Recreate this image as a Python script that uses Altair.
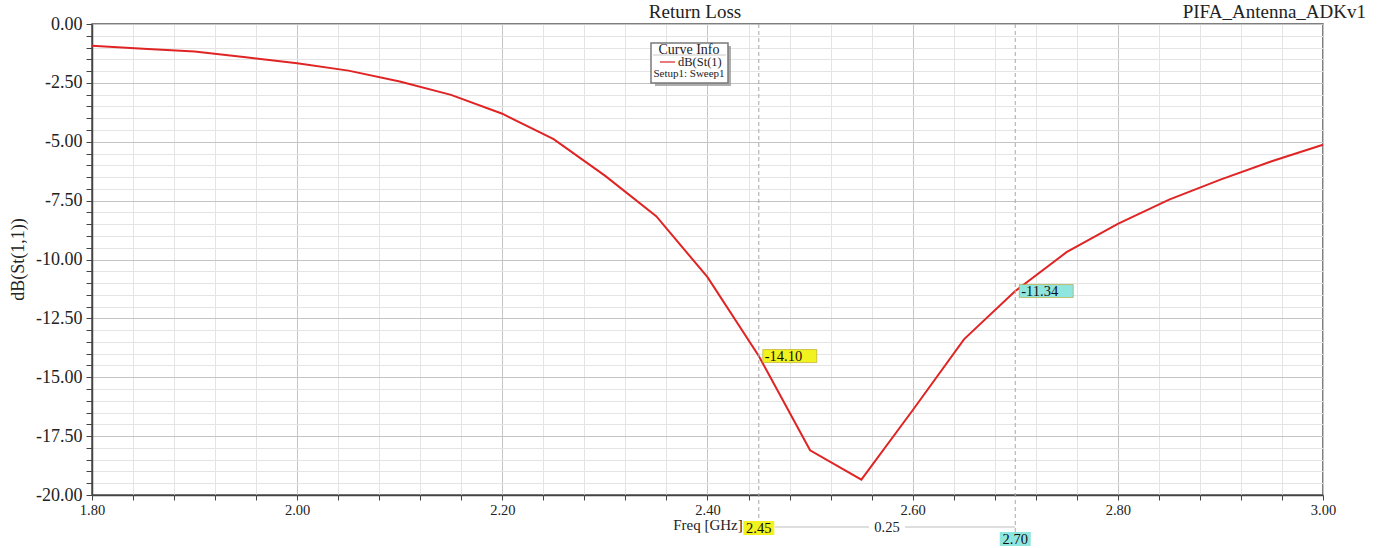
import altair as alt
import pandas as pd

# ---- data ----
freq = [1.80, 1.85, 1.90, 1.95, 2.00, 2.05, 2.10, 2.15, 2.20, 2.25, 2.30, 2.35,
        2.40, 2.45, 2.50, 2.55, 2.60, 2.65, 2.70, 2.75, 2.80, 2.85, 2.90, 2.95, 3.00]
db = [-0.92, -1.05, -1.17, -1.41, -1.67, -1.98, -2.44, -3.01, -3.81, -4.89, -6.44, -8.16,
      -10.75, -14.10, -18.10, -19.35, -16.40, -13.39, -11.34, -9.69, -8.49, -7.46, -6.61, -5.83, -5.13]

marker_freq = [2.45, 2.70]
marker_val = [-14.10, -11.34]
marker_label = ["-14.10", "-11.34"]
marker_color = ["#f2f21e", "#8fe6de"]
marker_flabel = ["2.45", "2.70"]
delta_label = "0.25"

x_ticks = [round(1.80 + 0.04 * i, 2) for i in range(31)]
y_ticks = [round(-20 + 0.5 * i, 2) for i in range(41)]

FONT = "Liberation Serif"

df = pd.DataFrame({"freq": freq, "db": db})
mk = pd.DataFrame({"freq": marker_freq, "val": marker_val, "lab": marker_label,
                   "col": marker_color, "flab": marker_flabel})

xscale = alt.Scale(domain=[1.8, 3.0], nice=False, zero=False)
yscale = alt.Scale(domain=[-20, 0], nice=False, zero=False)

x_major = "abs(round(datum.value*100) % 20) == 0"
y_major = "abs(round(datum.value*100) % 250) == 0"

xaxis = alt.Axis(
    values=x_ticks, title="Freq [GHz]",
    labelExpr=f"{x_major} ? format(datum.value, '.2f') : ''",
    labelFont=FONT, labelFontSize=14.5, labelColor="#222", labelPadding=3,
    labelOverlap=False, labelFlush=False,
    tickSize=5, tickColor="#444", domainColor="#444", domainWidth=1.5,
    gridColor={"condition": {"test": x_major, "value": "#c4c4c4"}, "value": "#e4e4e4"},
    titleFont=FONT, titleFontSize=15, titleFontWeight="normal", titleColor="#222",
    titleY=29, titleBaseline="middle",
)
yaxis = alt.Axis(
    values=y_ticks, title="dB(St(1,1))",
    labelExpr=f"{y_major} ? replace(format(datum.value, '.2f'), '\u2212', '-') : ''",
    labelFont=FONT, labelFontSize=18, labelColor="#222", labelPadding=4,
    labelOverlap=False, labelFlush=False,
    tickSize=6, tickColor="#444", domainColor="#444", domainWidth=1.5,
    gridColor={"condition": {"test": y_major, "value": "#c4c4c4"}, "value": "#e4e4e4"},
    titleFont=FONT, titleFontSize=18, titleFontWeight="normal", titleColor="#222",
    titleX=-74, titleY=235, titleAngle=-90, titleBaseline="middle", titleAlign="center",
)

X = lambda f: alt.X(f, scale=xscale, axis=xaxis)
Y = lambda f: alt.Y(f, scale=yscale, axis=yaxis)

curve = alt.Chart(df).mark_line(color="#e02424", strokeWidth=2).encode(
    x=X("freq:Q"), y=Y("db:Q"),
)

mbase = alt.Chart(mk)
vlines = mbase.mark_rule(color="#a8a8a8", strokeDash=[4, 3], strokeWidth=1).encode(
    x=X("freq:Q"), y=alt.value(0), y2=alt.value(508),
)

# value boxes on the curve
vbox = mbase.mark_rect(width=54, height=13, xOffset=31, stroke="#b0a020", strokeWidth=0.6).encode(
    x=X("freq:Q"), y=Y("val:Q"), fill=alt.Fill("col:N", scale=None),
)
vtext = mbase.mark_text(font=FONT, fontSize=14.5, color="#111", align="left", dx=6, baseline="middle", dy=1).encode(
    x=X("freq:Q"), y=Y("val:Q"), text="lab:N",
)

# frequency marker boxes below the axis
flayers = []
for i, py in enumerate([504, 515]):
    one = alt.Chart(mk.iloc[[i]])
    flayers.append(one.mark_rect(width=31, height=14).encode(
        x=X("freq:Q"), y=alt.value(py), fill=alt.Fill("col:N", scale=None)))
    flayers.append(one.mark_text(font=FONT, fontSize=14.5, color="#111", baseline="middle", dy=1).encode(
        x=X("freq:Q"), y=alt.value(py), text="flab:N"))

dl = pd.DataFrame({"a": [marker_freq[0]], "b": [marker_freq[1]],
                   "m": [(marker_freq[0] + marker_freq[1]) / 2], "t": [delta_label]})
dline = alt.Chart(dl).mark_rule(color="#bdbdbd", strokeWidth=1.2, xOffset=16).encode(
    x=X("a:Q"), x2="b:Q", y=alt.value(503),
)
dbg = alt.Chart(dl).mark_rect(width=36, height=12, fill="white").encode(
    x=X("m:Q"), y=alt.value(503),
)
dtext = alt.Chart(dl).mark_text(font=FONT, fontSize=14.5, color="#222", baseline="middle", dy=1).encode(
    x=X("m:Q"), y=alt.value(503), text="t:N",
)

# titles
ann = pd.DataFrame({"t": ["Return Loss"]})
t1 = alt.Chart(ann).mark_text(font=FONT, fontSize=19, color="#222", baseline="bottom").encode(
    x=alt.value(603), y=alt.value(-2), text="t:N")
ann2 = pd.DataFrame({"t": ["PIFA_Antenna_ADKv1"]})
t2 = alt.Chart(ann2).mark_text(font=FONT, fontSize=19, color="#222", baseline="bottom", align="right").encode(
    x=alt.value(1274), y=alt.value(-2), text="t:N")

# legend box "Curve Info"
lg = pd.DataFrame({"t": ["Curve Info"]})
shadow = alt.Chart(lg).mark_rect(fill="#9a9a9a", opacity=0.8).encode(
    x=alt.value(563), x2=alt.value(639), y=alt.value(22), y2=alt.value(62))
box = alt.Chart(lg).mark_rect(fill="white", stroke="#7a7a7a", strokeWidth=1.5).encode(
    x=alt.value(559), x2=alt.value(636), y=alt.value(19), y2=alt.value(59))
sep = alt.Chart(lg).mark_rule(color="#bbbbbb", strokeWidth=0.8).encode(
    x=alt.value(561), x2=alt.value(634), y=alt.value(31))
lt1 = alt.Chart(lg).mark_text(font=FONT, fontSize=14, color="#222", baseline="middle").encode(
    x=alt.value(597), y=alt.value(26), text=alt.value("Curve Info"))
lline = alt.Chart(lg).mark_rule(color="#e05050", strokeWidth=1.5).encode(
    x=alt.value(568), x2=alt.value(583), y=alt.value(38))
lt2 = alt.Chart(lg).mark_text(font=FONT, fontSize=12.5, color="#222", baseline="middle", align="left").encode(
    x=alt.value(586), y=alt.value(38), text=alt.value("dB(St(1)"))
lt3 = alt.Chart(lg).mark_text(font=FONT, fontSize=11, color="#222", baseline="middle").encode(
    x=alt.value(597), y=alt.value(50), text=alt.value("Setup1: Sweep1"))

chart = alt.layer(
    curve, vlines, dline, dbg, dtext, *flayers, vbox, vtext, t1, t2,
    shadow, box, sep, lt1, lline, lt2, lt3,
).properties(
    width=1231, height=471,
    padding={"left": 92, "top": 24, "right": 59, "bottom": 53},
    autosize=alt.AutoSizeParams(type="none"),
    background="white",
).configure_view(stroke="#555", strokeWidth=1.5)

chart.save("out.html", embed_options={"renderer": "svg", "actions": False})
